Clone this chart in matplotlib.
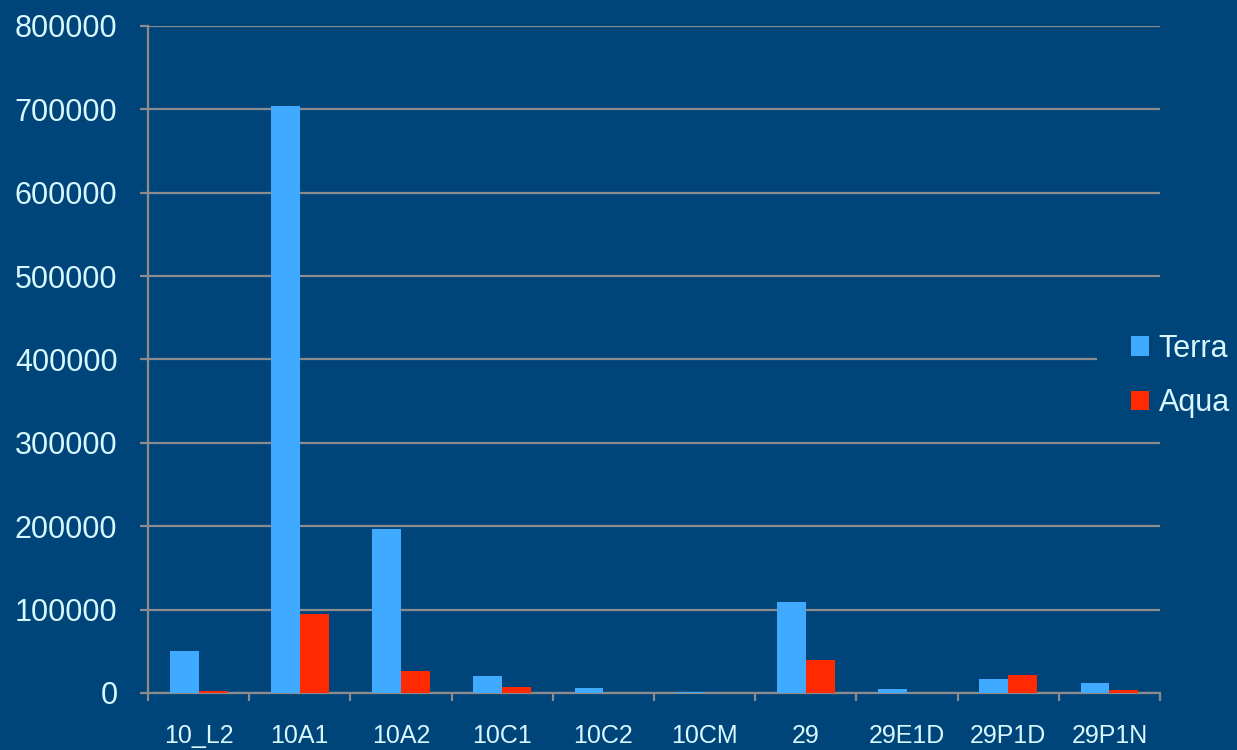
import matplotlib.pyplot as plt
from matplotlib.patches import Rectangle
import numpy as np

categories = ["10_L2", "10A1", "10A2", "10C1", "10C2", "10CM", "29", "29E1D", "29P1D", "29P1N"]
terra = [50400, 704000, 196700, 19800, 6000, 1200, 109500, 5200, 16800, 12000]
aqua = [2400, 94800, 26400, 6600, 0, 0, 39600, 0, 21200, 3600]
series_names = ["Terra", "Aqua"]

bg = "#00457A"
text_color = "#D8F8FF"
grid_color = "#8C8C8C"

plt.rcParams["font.family"] = ["Liberation Sans", "DejaVu Sans"]

fig = plt.figure(figsize=(12.37, 7.5), dpi=100, facecolor=bg)
ax = fig.add_axes([148 / 1237, 1 - 693 / 750, (1160 - 148) / 1237, (693 - 26) / 750])
ax.set_facecolor(bg)

x = np.arange(len(categories))
w = 0.285
ax.bar(x - w / 2, terra, w, color="#3FAAFF", label=series_names[0], zorder=3)
ax.bar(x + w / 2, aqua, w, color="#FF2A00", label=series_names[1], zorder=3)

ax.set_xlim(-0.5, len(categories) - 0.5)
ax.set_ylim(0, 800000)
ax.set_yticks(np.arange(0, 800001, 100000))
ax.set_xticks(x)
ax.set_xticklabels(categories)
ax.set_xticks(np.arange(-0.5, len(categories)), minor=True)

ax.yaxis.grid(True, color=grid_color, linewidth=1.6, zorder=0)
ax.tick_params(axis="x", which="major", length=0, pad=22, labelsize=18, labelcolor=text_color)
ax.tick_params(axis="x", which="minor", length=6, width=1.6, color=grid_color, direction="out")
ax.tick_params(axis="y", length=6, width=1.6, color=grid_color, pad=16, labelsize=22, labelcolor=text_color)

for side in ["top", "right"]:
    ax.spines[side].set_visible(False)
for side in ["left", "bottom"]:
    ax.spines[side].set_color(grid_color)
    ax.spines[side].set_linewidth(1.6)

# legend area hides the end of the 400000 gridline
ax.add_patch(Rectangle((1097 / 1237, 1 - 430 / 750), 80 / 1237, 110 / 750, transform=fig.transFigure,
                       facecolor=bg, edgecolor="none", zorder=2, clip_on=False))

leg = ax.legend(loc="center left", bbox_to_anchor=(1131 / 1237, 1 - 376 / 750), bbox_transform=fig.transFigure,
                frameon=False, fontsize=22,
                handlelength=0.6, handleheight=0.6, handletextpad=0.3, labelspacing=0.8,
                borderpad=0, borderaxespad=0)
for t in leg.get_texts():
    t.set_color(text_color)

fig.savefig("out.png", dpi=100, facecolor=bg)
